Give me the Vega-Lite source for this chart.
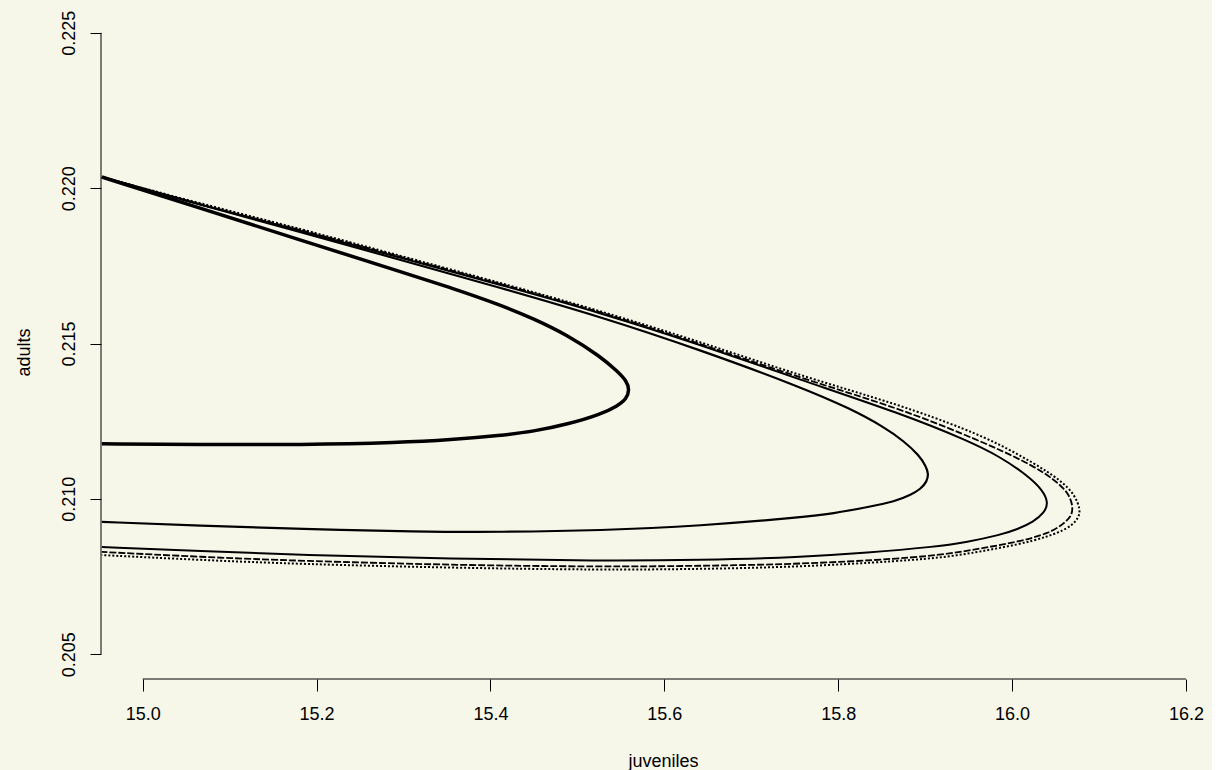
{
  "$schema": "https://vega.github.io/schema/vega-lite/v6.json",
  "width": 1111,
  "height": 671,
  "autosize": {"type": "none"},
  "padding": {"left": 101, "top": 8, "right": 0, "bottom": 91},
  "background": "#F7F7E9",
  "config": {
    "view": {"stroke": null},
    "font": "Liberation Sans"
  },
  "data": {"values": [
    {"c":"A","i":1,"x":14.953,"y":0.22036},
    {"c":"A","i":2,"x":15.0667,"y":0.21935},
    {"c":"A","i":3,"x":15.1817,"y":0.21833},
    {"c":"A","i":4,"x":15.2967,"y":0.21731},
    {"c":"A","i":5,"x":15.3542,"y":0.21680},
    {"c":"A","i":6,"x":15.4117,"y":0.21624},
    {"c":"A","i":7,"x":15.4496,"y":0.21580},
    {"c":"A","i":8,"x":15.4887,"y":0.21527},
    {"c":"A","i":9,"x":15.5267,"y":0.21458},
    {"c":"A","i":10,"x":15.5462,"y":0.21410},
    {"c":"A","i":11,"x":15.5565,"y":0.21380},
    {"c":"A","i":12,"x":15.5600,"y":0.21351},
    {"c":"A","i":13,"x":15.5565,"y":0.21322},
    {"c":"A","i":14,"x":15.5462,"y":0.21299},
    {"c":"A","i":15,"x":15.5267,"y":0.21272},
    {"c":"A","i":16,"x":15.4887,"y":0.21240},
    {"c":"A","i":17,"x":15.4496,"y":0.21217},
    {"c":"A","i":18,"x":15.4117,"y":0.21204},
    {"c":"A","i":19,"x":15.3542,"y":0.21190},
    {"c":"A","i":20,"x":15.2967,"y":0.21181},
    {"c":"A","i":21,"x":15.1817,"y":0.21174},
    {"c":"A","i":22,"x":15.0667,"y":0.21174},
    {"c":"A","i":23,"x":14.953,"y":0.21177},

    {"c":"B","i":1,"x":14.953,"y":0.22036},
    {"c":"B","i":2,"x":15.0667,"y":0.21946},
    {"c":"B","i":3,"x":15.1817,"y":0.21859},
    {"c":"B","i":4,"x":15.2967,"y":0.21769},
    {"c":"B","i":5,"x":15.4117,"y":0.21679},
    {"c":"B","i":6,"x":15.5267,"y":0.21586},
    {"c":"B","i":7,"x":15.6417,"y":0.21479},
    {"c":"B","i":8,"x":15.7567,"y":0.21360},
    {"c":"B","i":9,"x":15.8142,"y":0.21290},
    {"c":"B","i":10,"x":15.8521,"y":0.21232},
    {"c":"B","i":11,"x":15.8760,"y":0.21185},
    {"c":"B","i":12,"x":15.8930,"y":0.21140},
    {"c":"B","i":13,"x":15.9010,"y":0.21105},
    {"c":"B","i":14,"x":15.9040,"y":0.21080},
    {"c":"B","i":15,"x":15.9020,"y":0.21055},
    {"c":"B","i":16,"x":15.8950,"y":0.21032},
    {"c":"B","i":17,"x":15.8832,"y":0.21012},
    {"c":"B","i":18,"x":15.8660,"y":0.20992},
    {"c":"B","i":19,"x":15.8337,"y":0.20973},
    {"c":"B","i":20,"x":15.7946,"y":0.20953},
    {"c":"B","i":21,"x":15.7567,"y":0.20940},
    {"c":"B","i":22,"x":15.6417,"y":0.20913},
    {"c":"B","i":23,"x":15.5267,"y":0.20898},
    {"c":"B","i":24,"x":15.4117,"y":0.20893},
    {"c":"B","i":25,"x":15.3162,"y":0.20894},
    {"c":"B","i":26,"x":15.1817,"y":0.20903},
    {"c":"B","i":27,"x":15.0667,"y":0.20913},
    {"c":"B","i":28,"x":14.953,"y":0.20926},

    {"c":"C","i":1,"x":14.953,"y":0.22036},
    {"c":"C","i":2,"x":15.0667,"y":0.21946},
    {"c":"C","i":3,"x":15.1817,"y":0.21863},
    {"c":"C","i":4,"x":15.2967,"y":0.21776},
    {"c":"C","i":5,"x":15.4117,"y":0.21689},
    {"c":"C","i":6,"x":15.5267,"y":0.21599},
    {"c":"C","i":7,"x":15.6417,"y":0.21496},
    {"c":"C","i":8,"x":15.7567,"y":0.21383},
    {"c":"C","i":9,"x":15.8717,"y":0.21275},
    {"c":"C","i":10,"x":15.9487,"y":0.21188},
    {"c":"C","i":11,"x":15.9866,"y":0.21135},
    {"c":"C","i":12,"x":16.0177,"y":0.21075},
    {"c":"C","i":13,"x":16.0350,"y":0.21029},
    {"c":"C","i":14,"x":16.0420,"y":0.20987},
    {"c":"C","i":15,"x":16.0370,"y":0.20955},
    {"c":"C","i":16,"x":16.0246,"y":0.20926},
    {"c":"C","i":17,"x":16.0062,"y":0.20902},
    {"c":"C","i":18,"x":15.9866,"y":0.20884},
    {"c":"C","i":19,"x":15.9487,"y":0.20861},
    {"c":"C","i":20,"x":15.9096,"y":0.20845},
    {"c":"C","i":21,"x":15.8337,"y":0.20826},
    {"c":"C","i":22,"x":15.7567,"y":0.20812},
    {"c":"C","i":23,"x":15.6417,"y":0.20803},
    {"c":"C","i":24,"x":15.5267,"y":0.20800},
    {"c":"C","i":25,"x":15.3542,"y":0.20807},
    {"c":"C","i":26,"x":15.1817,"y":0.20819},
    {"c":"C","i":27,"x":15.0667,"y":0.20832},
    {"c":"C","i":28,"x":14.953,"y":0.20845},

    {"c":"E","i":1,"x":14.953,"y":0.22036},
    {"c":"E","i":2,"x":15.0667,"y":0.21946},
    {"c":"E","i":3,"x":15.1817,"y":0.21866},
    {"c":"E","i":4,"x":15.2967,"y":0.21779},
    {"c":"E","i":5,"x":15.4117,"y":0.21692},
    {"c":"E","i":6,"x":15.5267,"y":0.21602},
    {"c":"E","i":7,"x":15.6417,"y":0.21499},
    {"c":"E","i":8,"x":15.7567,"y":0.21389},
    {"c":"E","i":9,"x":15.8717,"y":0.21290},
    {"c":"E","i":10,"x":15.9487,"y":0.21203},
    {"c":"E","i":11,"x":15.9866,"y":0.21157},
    {"c":"E","i":12,"x":16.0246,"y":0.21106},
    {"c":"E","i":13,"x":16.0490,"y":0.21061},
    {"c":"E","i":14,"x":16.0650,"y":0.21019},
    {"c":"E","i":15,"x":16.0705,"y":0.20974},
    {"c":"E","i":16,"x":16.0680,"y":0.20942},
    {"c":"E","i":17,"x":16.0591,"y":0.20920},
    {"c":"E","i":18,"x":16.0441,"y":0.20890},
    {"c":"E","i":19,"x":16.0062,"y":0.20861},
    {"c":"E","i":20,"x":15.9671,"y":0.20842},
    {"c":"E","i":21,"x":15.9292,"y":0.20823},
    {"c":"E","i":22,"x":15.8717,"y":0.20807},
    {"c":"E","i":23,"x":15.7567,"y":0.20790},
    {"c":"E","i":24,"x":15.6417,"y":0.20784},
    {"c":"E","i":25,"x":15.5267,"y":0.20781},
    {"c":"E","i":26,"x":15.3542,"y":0.20787},
    {"c":"E","i":27,"x":15.1817,"y":0.20800},
    {"c":"E","i":28,"x":15.0667,"y":0.20813},
    {"c":"E","i":29,"x":14.953,"y":0.20829},

    {"c":"D","i":1,"x":14.953,"y":0.22036},
    {"c":"D","i":2,"x":15.0667,"y":0.21950},
    {"c":"D","i":3,"x":15.1817,"y":0.21869},
    {"c":"D","i":4,"x":15.2967,"y":0.21782},
    {"c":"D","i":5,"x":15.4117,"y":0.21695},
    {"c":"D","i":6,"x":15.5267,"y":0.21605},
    {"c":"D","i":7,"x":15.6417,"y":0.21505},
    {"c":"D","i":8,"x":15.7567,"y":0.21396},
    {"c":"D","i":9,"x":15.8717,"y":0.21302},
    {"c":"D","i":10,"x":15.9487,"y":0.21222},
    {"c":"D","i":11,"x":15.9866,"y":0.21174},
    {"c":"D","i":12,"x":16.0246,"y":0.21116},
    {"c":"D","i":13,"x":16.0570,"y":0.21058},
    {"c":"D","i":14,"x":16.0720,"y":0.21013},
    {"c":"D","i":15,"x":16.0790,"y":0.20964},
    {"c":"D","i":16,"x":16.0760,"y":0.20937},
    {"c":"D","i":17,"x":16.0694,"y":0.20916},
    {"c":"D","i":18,"x":16.0557,"y":0.20893},
    {"c":"D","i":19,"x":16.0246,"y":0.20864},
    {"c":"D","i":20,"x":15.9866,"y":0.20842},
    {"c":"D","i":21,"x":15.9292,"y":0.20813},
    {"c":"D","i":22,"x":15.8717,"y":0.20800},
    {"c":"D","i":23,"x":15.7567,"y":0.20781},
    {"c":"D","i":24,"x":15.6417,"y":0.20774},
    {"c":"D","i":25,"x":15.5267,"y":0.20771},
    {"c":"D","i":26,"x":15.3542,"y":0.20778},
    {"c":"D","i":27,"x":15.1817,"y":0.20790},
    {"c":"D","i":28,"x":15.0667,"y":0.20803},
    {"c":"D","i":29,"x":14.953,"y":0.20819}
  ]},
  "encoding": {
    "x": {
      "field": "x", "type": "quantitative",
      "scale": {"domain": [14.952, 16.23], "nice": false, "zero": false},
      "axis": {
        "values": [15, 15.2, 15.4, 15.6, 15.8, 16, 16.2],
        "format": ".1f",
        "domain": false, "grid": false,
        "tickSize": 12, "tickColor": "#000000", "tickWidth": 1,
        "labelPadding": 14, "labelFontSize": 18, "labelFont": "Liberation Sans", "labelColor": "#000000",
        "labelFlush": false, "labelOverlap": false,
        "title": "juveniles", "titleFont": "Liberation Sans", "titleFontSize": 18, "titleFontWeight": "normal", "titleColor": "#000000",
        "titleX": 562, "titleY": 87, "titleBaseline": "alphabetic", "titleAlign": "center"
      }
    },
    "y": {
      "field": "y", "type": "quantitative",
      "scale": {"domain": [0.2042, 0.2258], "nice": false, "zero": false},
      "axis": {
        "values": [0.205, 0.21, 0.215, 0.22, 0.225],
        "format": ".3f",
        "domain": false, "grid": false,
        "tickSize": 11, "tickColor": "#000000", "tickWidth": 1,
        "labelAngle": 270, "labelAlign": "center", "labelBaseline": "bottom",
        "labelPadding": 12, "labelFontSize": 18, "labelFont": "Liberation Sans", "labelColor": "#000000",
        "labelFlush": false, "labelOverlap": false,
        "title": "adults", "titleFont": "Liberation Sans", "titleFontSize": 18, "titleFontWeight": "normal", "titleColor": "#000000",
        "titleAngle": 270, "titleX": -72, "titleY": 344, "titleBaseline": "alphabetic", "titleAlign": "center"
      }
    },
    "order": {"field": "i", "type": "quantitative"}
  },
  "layer": [
    {
      "data": {"values": [{"i": 1, "x": 15.0, "x2": 16.2, "y": 0.2042}]},
      "mark": {"type": "rule", "color": "#000000", "strokeWidth": 1},
      "encoding": {
        "x2": {"field": "x2"}
      }
    },
    {
      "data": {"values": [{"i": 1, "x": 14.952, "y": 0.205, "y2": 0.225}]},
      "mark": {"type": "rule", "color": "#000000", "strokeWidth": 1},
      "encoding": {
        "y2": {"field": "y2"}
      }
    },
    {
      "transform": [{"filter": "datum.c === 'A'"}],
      "mark": {"type": "line", "color": "#000000", "strokeWidth": 3.5, "interpolate": "basis", "clip": true}
    },
    {
      "transform": [{"filter": "datum.c === 'B'"}],
      "mark": {"type": "line", "color": "#000000", "strokeWidth": 2.2, "interpolate": "basis", "clip": true}
    },
    {
      "transform": [{"filter": "datum.c === 'C'"}],
      "mark": {"type": "line", "color": "#000000", "strokeWidth": 2, "interpolate": "basis", "clip": true}
    },
    {
      "transform": [{"filter": "datum.c === 'E'"}],
      "mark": {"type": "line", "color": "#000000", "strokeWidth": 1.8, "strokeDash": [7, 2], "interpolate": "basis", "clip": true}
    },
    {
      "transform": [{"filter": "datum.c === 'D'"}],
      "mark": {"type": "line", "color": "#000000", "strokeWidth": 2, "strokeDash": [2, 2], "interpolate": "basis", "clip": true}
    }
  ]
}
